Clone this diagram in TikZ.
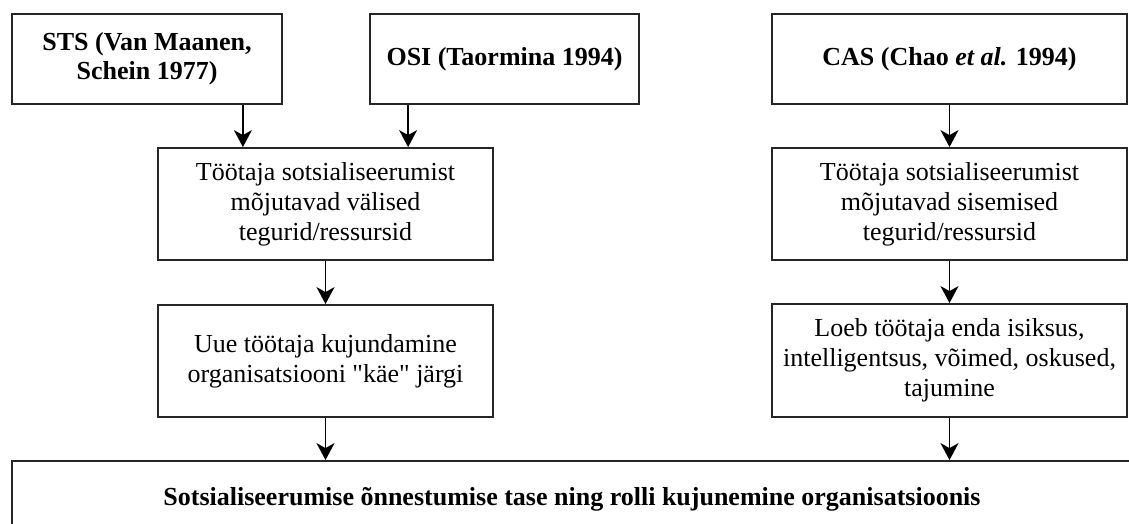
\documentclass[tikz,border=0pt]{standalone}
\usepackage{fontspec}
\setmainfont{Liberation Serif}[Ligatures=TeXOff]
\usetikzlibrary{arrows.meta,calc}
\begin{document}
\begin{tikzpicture}[x=1pt,y=-1pt,
  box/.style={draw=black!85,line width=1.8pt,fill=white,align=center,inner sep=0pt,
    font=\fontsize{26}{30}\selectfont},
  boldbox/.style={box,font=\fontsize{26}{29}\selectfont\bfseries},
  arr/.style={line width=1.4pt,-{Stealth[length=17pt,width=18pt,inset=5pt]}}]
\useasboundingbox (0,0) rectangle (1129,524);
\node[boldbox,minimum width=270,minimum height=90] (sts) at (147,59) {STS (Van Maanen,\\Schein 1977)};
\node[boldbox,minimum width=269,minimum height=90] (osi) at (504.5,59) {OSI (Taormina 1994)};
\node[boldbox,minimum width=355,minimum height=90] (cas) at (949.5,59) {CAS (Chao \textit{et al.} 1994)};
\node[box,minimum width=335,minimum height=112] (ext) at (325.5,204) {Töötaja sotsialiseerumist\\mõjutavad välised\\tegurid/ressursid};
\node[box,minimum width=355,minimum height=112] (int) at (949.5,204) {Töötaja sotsialiseerumist\\mõjutavad sisemised\\tegurid/ressursid};
\node[box,minimum width=335,minimum height=112] (uue) at (325.5,361) {Uue töötaja kujundamine\\organisatsiooni "käe" järgi};
\node[box,minimum width=355,minimum height=113] (loeb) at (949.5,360.5) {Loeb töötaja enda isiksus,\\intelligentsus, võimed, oskused,\\tajumine};
\node[boldbox,minimum width=1120,minimum height=76] (res) at (572,499) {Sotsialiseerumise õnnestumise tase ning rolli kujunemine organisatsioonis};
\draw[arr] ([xshift=-40pt]sts.south east) -- ([xshift=-40pt]sts.south east |- ext.north);
\draw[arr] ([xshift=39pt]osi.south west) -- ([xshift=39pt]osi.south west |- ext.north);
\draw[arr] (cas) -- (int);
\draw[arr] (ext) -- (uue);
\draw[arr] (int) -- (loeb);
\draw[arr] (uue.south) -- (uue.south |- res.north);
\draw[arr] (loeb.south) -- (loeb.south |- res.north);
\end{tikzpicture}
\end{document}
